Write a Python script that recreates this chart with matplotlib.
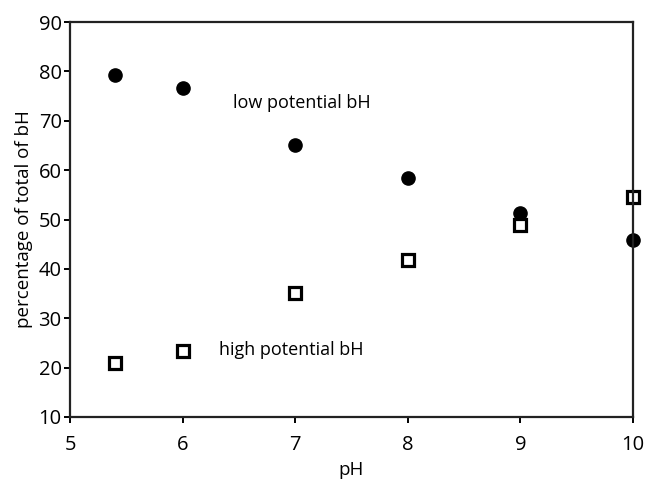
import matplotlib.pyplot as plt

plt.rcParams['font.family'] = ['Open Sans', 'DejaVu Sans']

# valori
ph = [5.4, 6, 7, 8, 9, 10]
low_bh = [79.2, 76.7, 65.1, 58.4, 51.3, 45.8]
high_bh = [20.9, 23.3, 35.1, 41.8, 48.9, 54.5]

fig = plt.figure(figsize=(6.47, 4.79), dpi=100)
ax = fig.add_axes([70 / 647, 62 / 479, 563 / 647, 395 / 479])

ax.plot(ph, low_bh, 'o', color='black', markersize=9.5, clip_on=False)
ax.plot(ph, high_bh, 's', markerfacecolor='white', markeredgecolor='black',
        markeredgewidth=2.3, markersize=8, clip_on=False)

ax.text(6.45, 73.5, "low potential bH", fontsize=13, va='center')
ax.text(6.32, 23.5, "high potential bH", fontsize=13, va='center')

ax.set_xlim(5, 10)
ax.set_ylim(10, 90)
ax.set_xticks([5, 6, 7, 8, 9, 10])
ax.set_yticks(range(10, 91, 10))
ax.set_xlabel("pH", fontsize=13.5, labelpad=4)
ax.set_ylabel("percentage of total of bH", fontsize=13.5, labelpad=4)

for s in ax.spines.values():
    s.set_linewidth(1.6)
    s.set_color('#222222')
ax.tick_params(direction='out', length=4, width=1.4, labelsize=14.5, pad=2,
               top=False, right=False)
ax.tick_params(axis='x', pad=9)

fig.savefig("out.png", dpi=100)
